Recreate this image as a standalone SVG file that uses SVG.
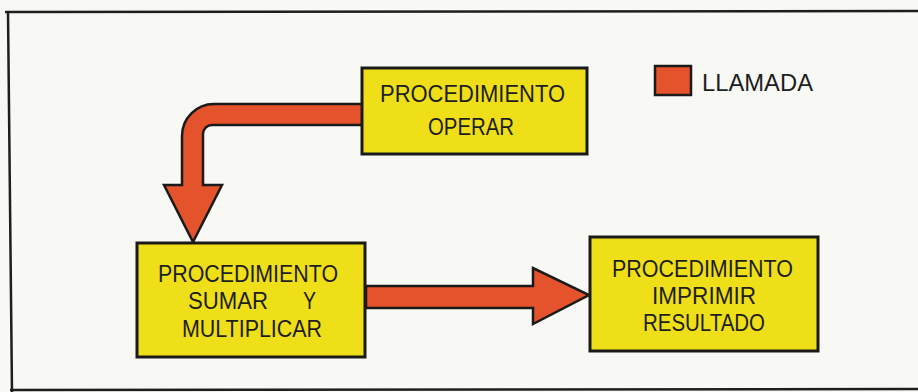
<svg xmlns="http://www.w3.org/2000/svg" width="918" height="392" viewBox="0 0 918 392">
  <style>
    .box { fill: #efdf18; stroke: #1a1a1a; stroke-width: 3; }
    .arrow { fill: #e4532c; stroke: #1a1a1a; stroke-width: 2.5; stroke-linejoin: miter; }
    .lbl { font-family: "Liberation Sans", Arial, sans-serif; font-size: 24px; fill: #1e1e1e; }
    .frame { fill: none; stroke: #1e1e1e; stroke-width: 2.5; }
  </style>
  <rect x="0" y="0" width="918" height="392" fill="#f8f8f5"/>
  <g id="frame">
    <line class="frame" x1="5" y1="12" x2="918" y2="11"/>
    <line class="frame" x1="8" y1="12" x2="12" y2="392"/>
    <line class="frame" x1="10" y1="390" x2="918" y2="389"/>
  </g>
  <g id="connectors">
    <path class="arrow" d="M364,104 L214,104 A32,32 0 0 0 182,136 L182,185 L164,185 L193,242 L222,185 L203,185 L203,134 A9,9 0 0 1 212,125 L364,125 Z"/>
    <path class="arrow" d="M366,286 L533,286 L533,268 L589,295 L533,324 L533,308 L366,308 Z"/>
  </g>
  <g id="node-operar">
    <rect class="box" x="362" y="68" width="225" height="86"/>
    <text class="lbl" x="380" y="102" textLength="185" lengthAdjust="spacingAndGlyphs">PROCEDIMIENTO</text>
    <text class="lbl" x="428" y="135" textLength="86" lengthAdjust="spacingAndGlyphs">OPERAR</text>
  </g>
  <g id="node-sumar">
    <rect class="box" x="137" y="243" width="228" height="114"/>
    <text class="lbl" x="158" y="282" textLength="180" lengthAdjust="spacingAndGlyphs">PROCEDIMIENTO</text>
    <text class="lbl" x="188" y="309" textLength="80" lengthAdjust="spacingAndGlyphs">SUMAR</text>
    <text class="lbl" x="303" y="309" textLength="13" lengthAdjust="spacingAndGlyphs">Y</text>
    <text class="lbl" x="182" y="337" textLength="140" lengthAdjust="spacingAndGlyphs">MULTIPLICAR</text>
  </g>
  <g id="node-imprimir">
    <rect class="box" x="590" y="237" width="228" height="114"/>
    <text class="lbl" x="612" y="277" textLength="181" lengthAdjust="spacingAndGlyphs">PROCEDIMIENTO</text>
    <text class="lbl" x="652" y="304" textLength="104" lengthAdjust="spacingAndGlyphs">IMPRIMIR</text>
    <text class="lbl" x="643" y="331" textLength="122" lengthAdjust="spacingAndGlyphs">RESULTADO</text>
  </g>
  <g id="legend">
    <rect x="655" y="66" width="36" height="29" fill="#e4532c" stroke="#1a1a1a" stroke-width="2.5"/>
    <text class="lbl" x="702" y="91" font-size="25" textLength="111" lengthAdjust="spacingAndGlyphs">LLAMADA</text>
  </g>
</svg>
